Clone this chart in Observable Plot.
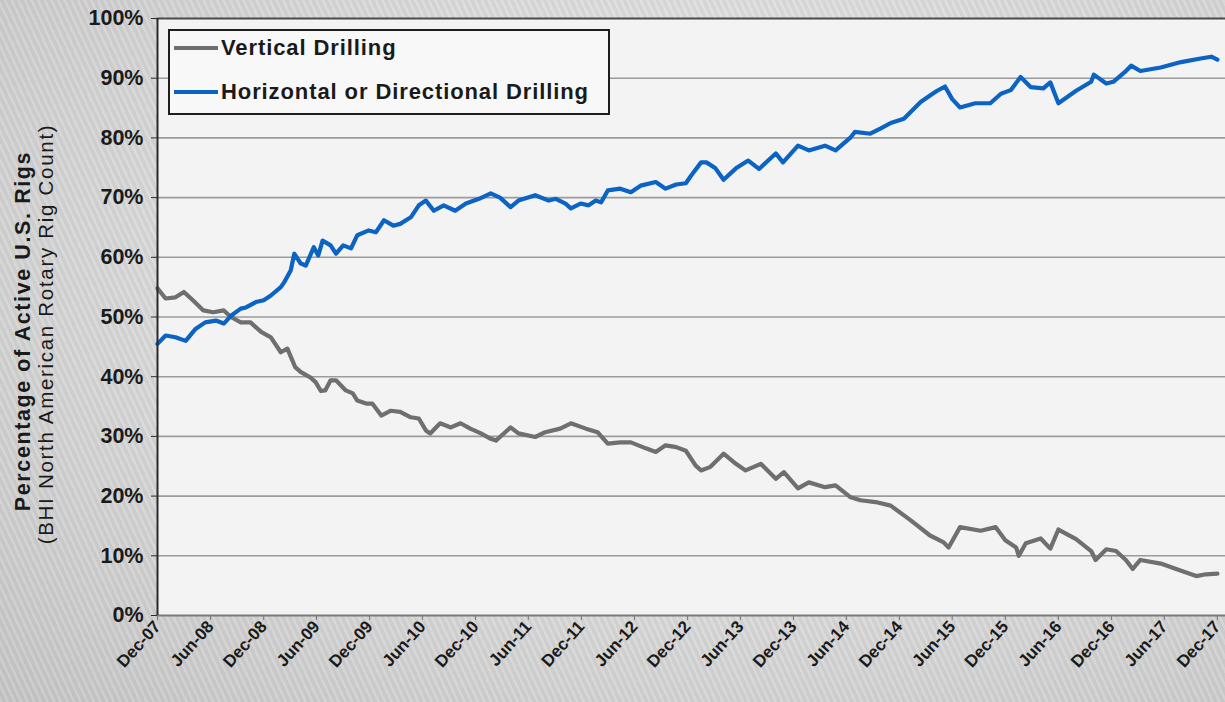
<!DOCTYPE html>
<html>
<head>
<meta charset="utf-8">
<script src="https://cdn.jsdelivr.net/npm/d3@7"></script>
<script src="https://cdn.jsdelivr.net/npm/@observablehq/plot@0.6"></script>
<style>
  html, body { margin: 0; padding: 0; }
  body {
    width: 1225px; height: 702px; overflow: hidden;
    font-family: "Liberation Sans", Arial, sans-serif;
    background:
      repeating-linear-gradient(65deg, rgba(255,255,255,0.10) 0px, rgba(255,255,255,0.10) 2px, rgba(0,0,0,0.035) 3px, rgba(0,0,0,0.035) 6px),
      radial-gradient(ellipse at 60% 40%, #ececec 0%, #dedede 45%, #c6c6c6 100%);
  }
  #wrap { position: relative; width: 1225px; height: 702px; }
  #legend {
    position: absolute; left: 168px; top: 29px; width: 438px; height: 82px;
    border: 2px solid #1e1e1e; background: #f8f8f8; box-sizing: content-box;
  }
  .item { position: absolute; left: 4px; display: flex; align-items: center;
          font-weight: bold; font-size: 22px; letter-spacing: 0.9px; color: #1a1a1a; }
  .sw { width: 44px; height: 4px; margin-right: 3px; }
</style>
</head>
<body>
<div id="wrap"></div>
<script>
// ---- data (months after Dec-07, percent of active rigs) ----
const vertMonths = [0,0.9,2.0,3.0,4.0,5.2,6.3,7.5,8.3,9.4,10.5,11.7,12.8,13.9,14.7,15.6,16.2,17.3,17.9,18.5,19.0,19.6,
  20.2,21.3,22.1,22.6,23.6,24.3,25.3,26.4,27.5,28.7,29.6,30.4,30.9,32.0,33.2,34.3,35.4,36.6,37.7,38.3,39.4,40.0,40.9,
  42.8,43.9,45.6,46.8,48.5,49.8,51.0,52.4,53.6,55.3,56.4,57.5,58.7,59.8,60.9,61.5,
  62.6,64.1,65.5,66.6,68.3,70.0,70.9,72.5,73.7,75.6,76.8,78.5,79.6,81.3,
  83.0,85.3,87.5,89.0,89.6,90.9,93.2,94.9,96.0,97.2,97.5,98.3,100.0,101.1,102.0,
  104.0,105.7,106.2,107.4,108.5,109.6,110.4,111.3,113.6,115.9,117.6,118.7,120.0];
const vertPct = [54.8,53.1,53.3,54.2,52.8,51.1,50.8,51.1,50.0,49.1,49.1,47.5,46.6,44.1,44.7,41.6,40.8,39.9,39.1,37.6,37.7,39.4,
  39.4,37.7,37.2,36.0,35.5,35.5,33.5,34.3,34.1,33.2,33.0,31.0,30.5,32.2,31.5,32.2,31.3,30.5,29.6,29.3,30.7,31.5,30.5,
  29.9,30.7,31.3,32.2,31.3,30.7,28.8,29.0,29.0,28.0,27.4,28.5,28.2,27.6,25.1,24.3,
  24.9,27.1,25.4,24.3,25.4,22.9,24.0,21.3,22.3,21.5,21.8,19.8,19.3,19.0,
  18.4,15.9,13.4,12.3,11.4,14.8,14.2,14.8,12.6,11.4,10.0,12.1,12.9,11.2,14.4,
  12.8,10.8,9.3,11.1,10.8,9.3,7.8,9.3,8.7,7.5,6.6,6.9,7.0];

const horizMonths = [0,0.9,2.0,3.2,4.3,5.4,6.6,7.5,8.3,9.4,10.0,11.1,12.0,12.8,13.9,14.3,15.1,15.5,16.2,16.8,17.7,18.2,18.7,19.6,
  20.2,21.0,21.9,22.6,23.9,24.7,25.6,26.7,27.5,28.7,29.6,30.4,31.3,32.4,33.7,34.9,36.4,37.7,38.8,40.0,40.9,
  42.8,44.3,45.1,46.2,46.8,47.9,48.8,49.6,50.2,51.0,52.4,53.6,54.7,56.4,57.5,58.7,59.8,60.4,61.5,
  62.1,63.2,64.1,65.5,66.9,68.1,70.0,70.8,72.5,73.7,75.6,76.8,78.5,79.0,80.7,81.9,
  83.0,84.5,86.4,87.5,88.3,89.2,90.0,90.9,92.6,94.3,95.5,96.6,97.7,98.9,100.3,101.1,102.0,
  104.0,105.7,106.0,107.4,108.2,109.6,110.2,111.3,113.6,115.9,118.1,119.3,120.0];
const horizPct = [45.5,46.9,46.6,46.0,48.0,49.1,49.4,48.9,50.2,51.4,51.6,52.5,52.8,53.6,55.0,55.8,57.8,60.6,59.0,58.6,61.7,60.3,62.8,62.0,
  60.6,62.0,61.5,63.7,64.5,64.2,66.2,65.3,65.6,66.7,68.7,69.5,67.8,68.7,67.8,69.0,69.8,70.7,70.0,68.4,69.5,
  70.4,69.5,69.8,69.0,68.2,69.0,68.7,69.5,69.2,71.2,71.5,70.9,72.0,72.6,71.5,72.2,72.4,73.7,75.9,
  75.9,74.9,73.0,74.9,76.2,74.8,77.4,75.9,78.7,77.9,78.7,77.9,80.1,81.0,80.7,81.6,
  82.5,83.2,86.0,87.1,87.9,88.6,86.5,85.1,85.8,85.8,87.4,88.0,90.2,88.5,88.3,89.3,85.8,
  87.9,89.4,90.6,89.1,89.4,91.2,92.1,91.2,91.8,92.7,93.3,93.6,93.1];

const xTickLabels = ["Dec-07","Jun-08","Dec-08","Jun-09","Dec-09","Jun-10","Dec-10","Jun-11","Dec-11","Jun-12",
  "Dec-12","Jun-13","Dec-13","Jun-14","Dec-14","Jun-15","Dec-15","Jun-16","Dec-16","Jun-17","Dec-17"];
const yTicks = [0,10,20,30,40,50,60,70,80,90,100];
const seriesNames = ["Vertical Drilling", "Horizontal or Directional Drilling"];
const seriesColors = ["#6f6f6f", "#0b63c4"];

// ---- helpers ----
function monthToDate(m) {
  const w = Math.floor(m), f = m - w;
  const d0 = Date.UTC(2007, 11 + w, 1), d1 = Date.UTC(2007, 12 + w, 1);
  return new Date(d0 + f * (d1 - d0));
}
const vert = vertMonths.map((m, i) => ({date: monthToDate(m), pct: vertPct[i]}));
const horiz = horizMonths.map((m, i) => ({date: monthToDate(m), pct: horizPct[i]}));
const tickDates = xTickLabels.map((_, i) => monthToDate(i * 6));
const labelOf = new Map(tickDates.map((d, i) => [+d, xTickLabels[i]]));

const chart = Plot.plot({
  width: 1225, height: 702,
  marginLeft: 157, marginRight: 0, marginTop: 18, marginBottom: 87,
  style: {background: "transparent", fontFamily: "'Liberation Sans', Arial, sans-serif", color: "#1a1a1a"},
  x: {type: "utc", domain: [monthToDate(0), monthToDate(120.9)]},
  y: {domain: [0, 100]},
  marks: [
    Plot.frame({fill: "#f3f3f3", stroke: null}),
    Plot.ruleY(yTicks.filter(d => d > 0 && d < 100), {stroke: "#9b9b9b", strokeWidth: 1.6}),
    Plot.ruleY([100], {stroke: "#4a4a4a", strokeWidth: 2}),
    Plot.line(vert, {x: "date", y: "pct", stroke: seriesColors[0], strokeWidth: 4.2, curve: "linear"}),
    Plot.line(horiz, {x: "date", y: "pct", stroke: seriesColors[1], strokeWidth: 4.2, curve: "linear"}),
    Plot.ruleY([0], {stroke: "#7a7a7a", strokeWidth: 2.2}),
    Plot.ruleX([monthToDate(0)], {stroke: "#2a2a2a", strokeWidth: 2}),
    Plot.axisY({ticks: yTicks, tickFormat: d => d + "%", tickSize: 6, tickPadding: 8,
      fontSize: 21.5, fontWeight: "bold", stroke: "#2a2a2a", label: null}),
    Plot.axisX({ticks: tickDates, tickFormat: d => labelOf.get(+d), tickRotate: -48, tickSize: 5,
      tickPadding: 3, fontSize: 17, fontWeight: "bold", stroke: "#7a7a7a", label: null})
  ]
});

const svg = d3.select(chart);
const title = svg.append("g").attr("fill", "#1a1a1a").attr("text-anchor", "middle");
title.append("text")
  .attr("transform", "translate(30,331) rotate(-90)")
  .attr("font-size", 21.5).attr("font-weight", "bold").style("letter-spacing", "1.6px")
  .text("Percentage of Active U.S. Rigs");
title.append("text")
  .attr("transform", "translate(53,334) rotate(-90)")
  .attr("font-size", 20.5).style("letter-spacing", "1.7px")
  .text("(BHI North American Rotary Rig Count)");

const wrap = document.getElementById("wrap");
wrap.appendChild(chart);

const legend = document.createElement("div");
legend.id = "legend";
seriesNames.forEach((name, i) => {
  const it = document.createElement("div");
  it.className = "item";
  it.style.top = (i === 0 ? 4 : 48) + "px";
  const sw = document.createElement("div");
  sw.className = "sw"; sw.style.background = seriesColors[i];
  const tx = document.createElement("span");
  tx.textContent = name;
  it.appendChild(sw); it.appendChild(tx);
  legend.appendChild(it);
});
wrap.appendChild(legend);
</script>
</body>
</html>
